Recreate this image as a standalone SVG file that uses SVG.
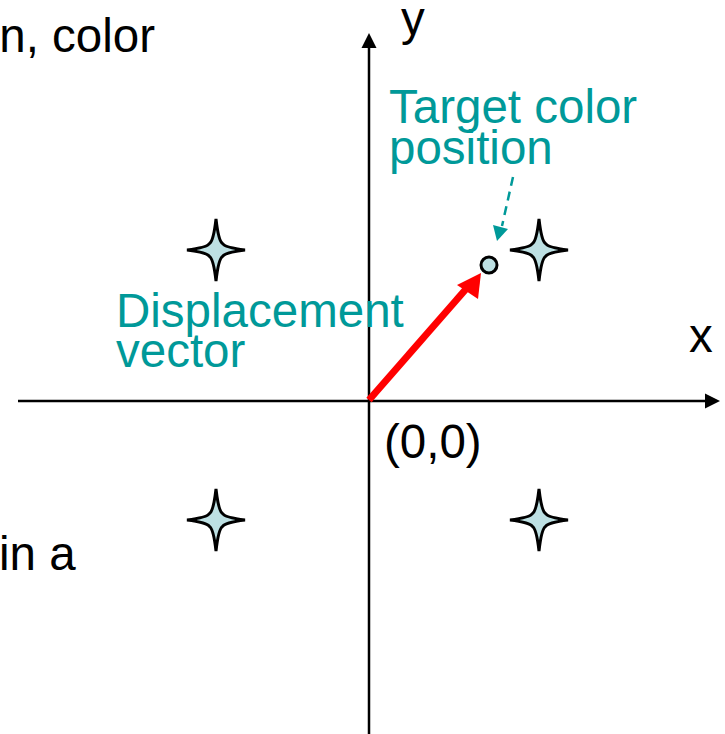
<svg xmlns="http://www.w3.org/2000/svg" width="725" height="734" viewBox="0 0 725 734">
<style>
.t{font-family:"Liberation Sans",Arial,sans-serif;font-size:47.5px}
.k{fill:#000}
.c{fill:#009999}
.ax{stroke:#000;stroke-width:2.5;fill:none}
.star{fill:#BDE0E3;stroke:#000;stroke-width:3;stroke-linejoin:miter;stroke-miterlimit:4}
</style>
<defs>
<path id="st" d="M0,-31 Q2.5,-9 6.5,-6.5 Q9,-2.5 29,0 Q9,2.5 6.5,6.5 Q2.5,9 0,31 Q-2.5,9 -6.5,6.5 Q-9,2.5 -29,0 Q-9,-2.5 -6.5,-6.5 Q-2.5,-9 0,-31 Z"/>
</defs>
<g id="connectors">
<line class="ax" x1="369" y1="734" x2="369" y2="46"/>
<polygon points="369,33 361.5,48 376.5,48" fill="#000"/>
<line class="ax" x1="18" y1="401" x2="707" y2="401"/>
<polygon points="720,401 705,393.5 705,408.5" fill="#000"/>
<line x1="369" y1="400" x2="466" y2="289" stroke="#FF0000" stroke-width="7"/>
<polygon points="481,273 457,285 478,299" fill="#FF0000"/>
<line x1="513" y1="177" x2="502" y2="226" stroke="#009999" stroke-width="2.5" stroke-dasharray="9,6"/>
<polygon points="497,241 493,225 508,229" fill="#009999"/>
</g>
<g id="star1"><use href="#st" class="star" transform="translate(216,250)"/></g>
<g id="star2"><use href="#st" class="star" transform="translate(539,250)"/></g>
<g id="star3"><use href="#st" class="star" transform="translate(216,520)"/></g>
<g id="star4"><use href="#st" class="star" transform="translate(539,520)"/></g>
<g id="target"><circle cx="489" cy="265" r="8" fill="#BDE0E3" stroke="#000" stroke-width="3"/></g>
<g id="labels">
<text class="t k" x="401" y="35">y</text>
<text class="t k" x="689" y="352">x</text>
<text class="t k" x="384" y="458">(0,0)</text>
<text class="t c" x="389" y="123">Target color</text>
<text class="t c" x="389" y="164">position</text>
<text class="t c" x="116" y="327">Displacement</text>
<text class="t c" x="116" y="367">vector</text>
<text class="t k" x="155" y="52" text-anchor="end">n, color</text>
<text class="t k" x="-1" y="570">in a</text>
</g>
</svg>
